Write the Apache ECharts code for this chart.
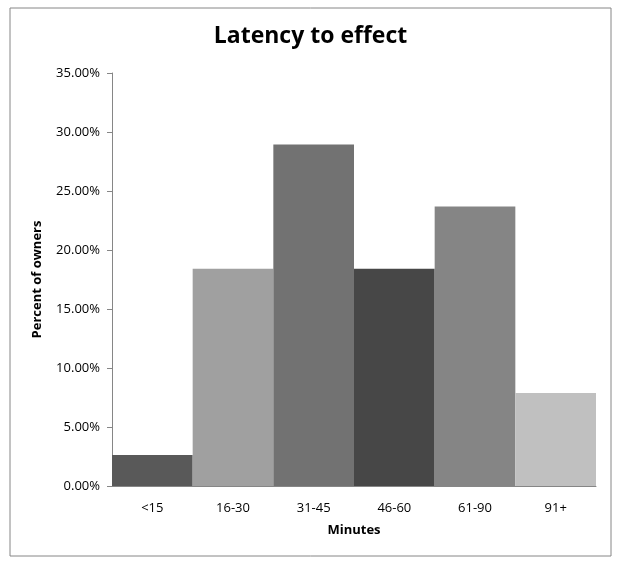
<!DOCTYPE html>
<html>
<head>
<meta charset="utf-8">
<script src="https://cdn.jsdelivr.net/npm/echarts@6/dist/echarts.min.js"></script>
<style>
html, body { margin: 0; padding: 0; background: #fff; }
#container { width: 621px; height: 566px; }
</style>
</head>
<body>
<div id="container"></div>
<script>
var categories = ['<15', '16-30', '31-45', '46-60', '61-90', '91+'];
var percentOwners = [2.63, 18.42, 28.95, 18.42, 23.68, 7.89];
var barColors = ['#595959', '#a0a0a0', '#727272', '#474747', '#858585', '#c0c0c0'];

var dom = document.getElementById('container');
var myChart = echarts.init(dom);

var option = {
    backgroundColor: '#fff',
    animation: false,
    textStyle: { fontFamily: 'Open Sans' },
    title: {
        text: 'Latency to effect',
        left: 'center',
        top: 20,
        textStyle: { fontSize: 23, fontWeight: 'bold', color: '#000', fontFamily: 'Open Sans' }
    },
    graphic: [{
        type: 'rect',
        shape: { x: 10, y: 8, width: 601, height: 548 },
        style: { fill: 'none', stroke: '#868686', lineWidth: 1 },
        silent: true
    }],
    grid: { left: 112, right: 25, top: 73, bottom: 80 },
    xAxis: {
        type: 'category',
        data: categories,
        name: 'Minutes',
        nameLocation: 'middle',
        nameGap: 38,
        nameTextStyle: { fontWeight: 'bold', fontSize: 13, color: '#000' },
        axisLine: { lineStyle: { color: '#868686' } },
        axisTick: { show: false },
        axisLabel: { color: '#000', fontSize: 13, margin: 16 }
    },
    yAxis: {
        type: 'value',
        min: 0,
        max: 35,
        interval: 5,
        name: 'Percent of owners',
        nameLocation: 'middle',
        nameGap: 68,
        nameTextStyle: { fontWeight: 'bold', fontSize: 13, color: '#000' },
        axisLine: { show: true, lineStyle: { color: '#868686' } },
        axisTick: { show: true, inside: false, length: 5, lineStyle: { color: '#868686' } },
        splitLine: { show: false },
        axisLabel: {
            color: '#000',
            fontSize: 13,
            margin: 12,
            formatter: function (v) { return v.toFixed(2) + '%'; }
        }
    },
    series: [{
        type: 'bar',
        barCategoryGap: 0,
        data: percentOwners.map(function (v, i) {
            return { value: v, itemStyle: { color: barColors[i] } };
        })
    }]
};

myChart.setOption(option, true);
</script>
</body>
</html>
